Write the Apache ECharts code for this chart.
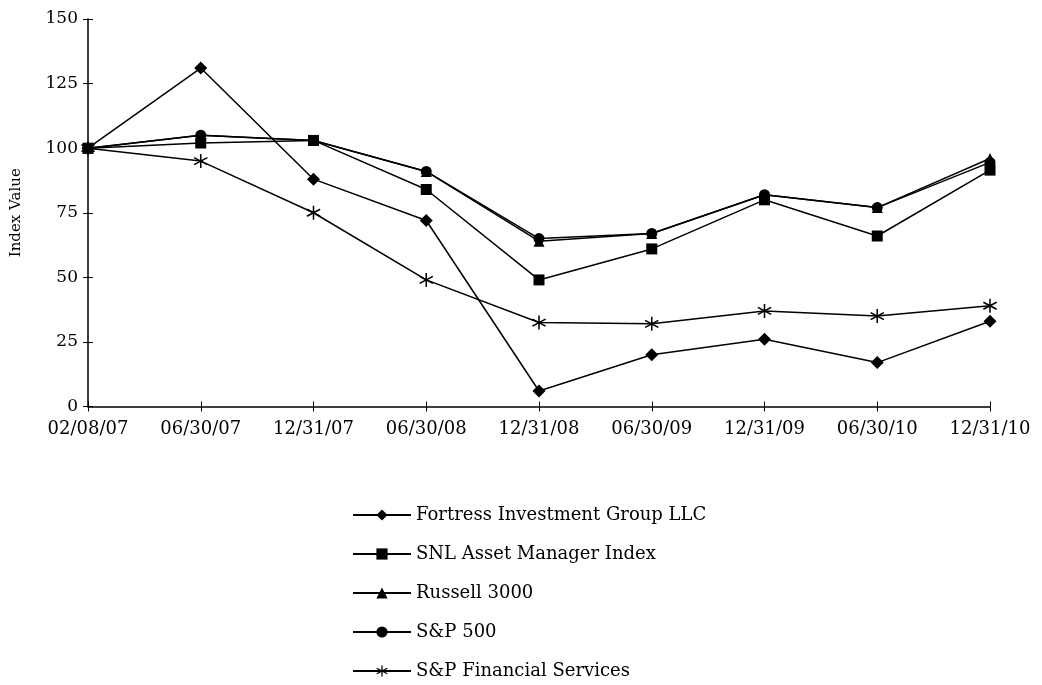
<!DOCTYPE html>
<html>
<head>
<meta charset="utf-8">
<script src="https://cdn.jsdelivr.net/npm/echarts@6/dist/echarts.min.js"></script>
<style>html,body{margin:0;padding:0;background:#fff;}#chart{width:1042px;height:685px;}</style>
</head>
<body>
<div id="chart"></div>
<script>
const categories = ['02/08/07','06/30/07','12/31/07','06/30/08','12/31/08','06/30/09','12/31/09','06/30/10','12/31/10'];
const seriesNames = ['Fortress Investment Group LLC','SNL Asset Manager Index','Russell 3000','S&P 500','S&P Financial Services'];
const fortress = [100, 131, 88, 72, 6, 20, 26, 17, 33];
const snl      = [100, 102, 103, 84, 49, 61, 80, 66, 91.5];
const russell  = [100, 105, 103, 91, 64, 67, 82, 77, 96];
const sp500    = [100, 105, 103, 91, 65, 67, 82, 77, 94.5];
const spfin    = [100, 95, 75, 49, 32.5, 32, 37, 35, 39];
const yTicks = [0, 25, 50, 75, 100, 125, 150];

const FONT = 'DejaVu Serif';
const asterisk = 'path://M45,0L55,0L55,100L45,100Z' +
  'M9.5,20.5L95.5,70.5L90.5,79.5L4.5,29.5Z' +
  'M4.5,70.5L90.5,20.5L95.5,29.5L9.5,79.5Z';

function mk(name, data, symbol, size) {
  return {
    name: name, type: 'line', data: data, xAxisIndex: 0, yAxisIndex: 0,
    symbol: symbol, symbolSize: size, showSymbol: true,
    lineStyle: { color: '#000', width: 1.5 },
    itemStyle: { color: '#000' },
    animation: false
  };
}

const chart = echarts.init(document.getElementById('chart'), null, { renderer: 'canvas' });
chart.setOption({
  backgroundColor: '#fff',
  animation: false,
  textStyle: { fontFamily: FONT, color: '#000' },
  grid: { left: 88, right: 52, top: 19, bottom: 278.5, containLabel: false, outerBoundsMode: 'none' },
  xAxis: [
    {
      type: 'category', data: categories, boundaryGap: false, position: 'bottom',
      axisLine: { show: true, lineStyle: { color: '#000', width: 1.5 } },
      axisTick: { show: true, inside: false, length: 5, lineStyle: { color: '#000', width: 1 } },
      axisLabel: { color: '#000', fontFamily: FONT, fontSize: 18, margin: 14 },
      splitLine: { show: false }
    },
    {
      type: 'category', data: categories, boundaryGap: false, position: 'bottom',
      axisLine: { show: false },
      axisTick: { show: true, inside: true, length: 5, lineStyle: { color: '#000', width: 1 } },
      axisLabel: { show: false },
      splitLine: { show: false }
    }
  ],
  yAxis: [
    {
      type: 'value', min: yTicks[0], max: yTicks[yTicks.length - 1], interval: yTicks[1] - yTicks[0], position: 'left',
      name: 'Index Value', nameLocation: 'middle', nameGap: 64, nameRotate: 90,
      nameTextStyle: { color: '#000', fontFamily: FONT, fontSize: 15 },
      axisLine: { show: true, lineStyle: { color: '#000', width: 1.5 } },
      axisTick: { show: true, inside: false, length: 5, lineStyle: { color: '#000', width: 1 } },
      axisLabel: { color: '#000', fontFamily: FONT, fontSize: 17, margin: 10 },
      splitLine: { show: false }
    },
    {
      type: 'value', min: yTicks[0], max: yTicks[yTicks.length - 1], interval: yTicks[1] - yTicks[0], position: 'left',
      axisLine: { show: false },
      axisTick: { show: true, inside: true, length: 5, lineStyle: { color: '#000', width: 1 } },
      axisLabel: { show: false },
      splitLine: { show: false }
    }
  ],
  legend: {
    orient: 'vertical', left: 352, top: 506, padding: 0,
    itemWidth: 58, itemHeight: 14, itemGap: 21,
    textStyle: { color: '#000', fontFamily: FONT, fontSize: 18, lineHeight: 18 },
    data: seriesNames
  },
  series: [
    mk(seriesNames[0], fortress, 'diamond', 13),
    mk(seriesNames[1], snl, 'rect', 11),
    mk(seriesNames[2], russell, 'triangle', 11),
    mk(seriesNames[3], sp500, 'circle', 11),
    mk(seriesNames[4], spfin, asterisk, 14)
  ]
});
</script>
</body>
</html>
